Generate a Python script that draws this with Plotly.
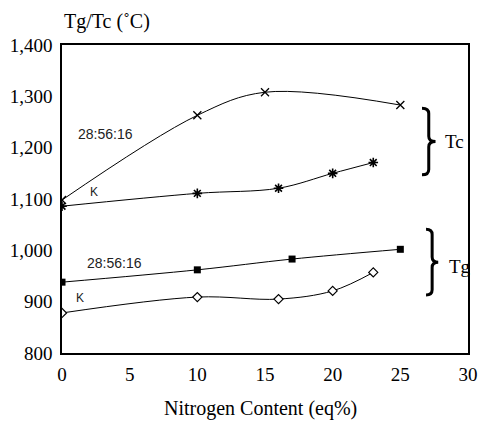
import plotly.graph_objects as go

# --- data ---
tc_a_x = [0, 10, 15, 25]
tc_a_y = [1098, 1263, 1308, 1283]
tc_k_x = [0, 10, 16, 20, 23]
tc_k_y = [1086, 1111, 1121, 1150, 1171]
tg_a_x = [0, 10, 17, 25]
tg_a_y = [938, 962, 983, 1002]
tg_k_x = [0, 10, 16, 20, 23]
tg_k_y = [878, 909, 905, 921, 957]

x_ticks = [0, 5, 10, 15, 20, 25, 30]
y_ticks = [800, 900, 1000, 1100, 1200, 1300, 1400]
y_tick_text = ["800", "900", "1,000", "1,100", "1,200", "1,300", "1,400"]

SERIF = "'Liberation Serif', 'Times New Roman', Times, 'DejaVu Serif', serif"
SANS = "'Liberation Sans', Arial, sans-serif"

fig = go.Figure()
line = dict(color="black", width=1, shape="spline")
fig.add_trace(go.Scatter(x=tc_a_x, y=tc_a_y, mode="lines+markers", line=line,
                         marker=dict(symbol="x-thin-open", size=8, color="black",
                                     line=dict(width=1.3, color="black"))))
fig.add_trace(go.Scatter(x=tc_k_x, y=tc_k_y, mode="lines+markers", line=line,
                         marker=dict(symbol="asterisk-open", size=8, color="black",
                                     line=dict(width=1.6, color="black"))))
fig.add_trace(go.Scatter(x=tg_a_x, y=tg_a_y, mode="lines+markers", line=line,
                         marker=dict(symbol="square", size=7, color="black")))
fig.add_trace(go.Scatter(x=tg_k_x, y=tg_k_y, mode="lines+markers", line=line,
                         marker=dict(symbol="diamond", size=7, color="white",
                                     line=dict(width=1.2, color="black"))))

def brace(x0, x1, ytop, ybot):
    xm = (x0 + x1) / 2
    ymid = (ytop + ybot) / 2
    h = (ytop - ybot)
    c = h * 0.08
    return (f"M {x0},{ytop} Q {xm},{ytop} {xm},{ytop - c} "
            f"L {xm},{ymid + c} Q {xm},{ymid} {x1},{ymid} "
            f"Q {xm},{ymid} {xm},{ymid - c} "
            f"L {xm},{ybot + c} Q {xm},{ybot} {x0},{ybot}")

shapes = [
    dict(type="path", xref="x", yref="y", path=brace(26.6, 27.6, 1277, 1147),
         line=dict(color="black", width=3)),
    dict(type="path", xref="x", yref="y", path=brace(26.9, 27.8, 1041, 913),
         line=dict(color="black", width=3)),
]

annotations = [
    dict(x=29.0, y=1212, xref="x", yref="y", text="Tc", showarrow=False,
         font=dict(family=SERIF, size=19, color="black")),
    dict(x=29.4, y=968, xref="x", yref="y", text="Tg", showarrow=False,
         font=dict(family=SERIF, size=19, color="black")),
    dict(x=3.2, y=1227, xref="x", yref="y", text="28:56:16", showarrow=False,
         font=dict(family=SANS, size=14, color="#222")),
    dict(x=2.4, y=1114, xref="x", yref="y", text="K", showarrow=False,
         font=dict(family=SANS, size=12, color="#222")),
    dict(x=3.9, y=976, xref="x", yref="y", text="28:56:16", showarrow=False,
         font=dict(family=SANS, size=14, color="#222")),
    dict(x=1.35, y=907, xref="x", yref="y", text="K", showarrow=False,
         font=dict(family=SANS, size=12, color="#222")),
    dict(x=0, y=1, xref="paper", yref="paper", xanchor="left", yanchor="bottom",
         yshift=10, text="Tg/Tc (˚C)", showarrow=False,
         font=dict(family=SERIF, size=20, color="black")),
    dict(x=0.49, y=0, xref="paper", yref="paper", xanchor="center", yanchor="middle",
         yshift=-55, text="Nitrogen Content (eq%)", showarrow=False,
         font=dict(family=SERIF, size=20, color="black")),
]

fig.update_layout(
    width=482, height=421,
    margin=dict(l=62, r=14, t=45, b=68, autoexpand=False),
    paper_bgcolor="white", plot_bgcolor="white",
    showlegend=False,
    shapes=shapes, annotations=annotations,
    font=dict(family=SERIF, size=18, color="black"),
)
fig.update_xaxes(range=[0, 30], tickvals=x_ticks, showgrid=False, zeroline=False,
                 showline=True, mirror=True, linecolor="black", linewidth=1.5,
                 ticks="", ticklabelstandoff=3, tickfont=dict(family=SERIF, size=19),
                 automargin=False)
fig.update_yaxes(range=[800, 1400], tickvals=y_ticks, ticktext=y_tick_text,
                 showgrid=False, zeroline=False, tickfont=dict(family=SERIF, size=19),
                 showline=True, mirror=True, linecolor="black", linewidth=1.5,
                 ticks="", ticklabelstandoff=4, automargin=False)

fig.write_html("out.html")
